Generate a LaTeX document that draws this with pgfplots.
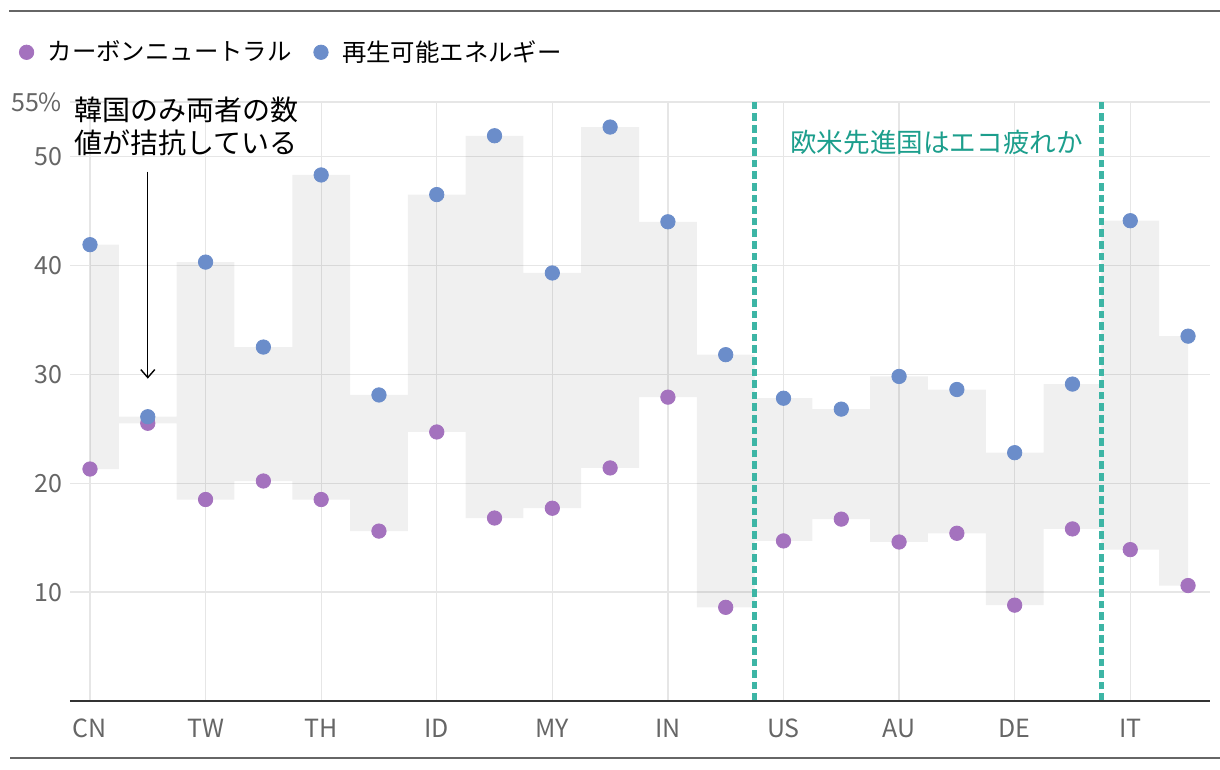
\documentclass[border=0pt]{standalone}
\usepackage{pgfplots}
\pgfplotsset{compat=1.18}
\usetikzlibrary{arrows.meta}
\usepackage{fontspec}
\setmainfont{Noto Sans CJK JP}
\definecolor{cnpurple}{HTML}{A472BE}
\definecolor{reblue}{HTML}{6B8DCA}
\definecolor{tealline}{HTML}{3DB5A5}
\definecolor{tealtext}{HTML}{1C9E8C}
\definecolor{gridgray}{HTML}{E6E6E6}
\definecolor{ticktext}{HTML}{666666}
\pgfplotstableread{
x  cn    re
0  21.3  41.9
1  25.5  26.1
2  18.5  40.3
3  20.2  32.5
4  18.5  48.3
5  15.6  28.1
6  24.7  46.5
7  16.8  51.9
8  17.7  39.3
9  21.4  52.7
10 27.9  44.0
11 8.6   31.8
12 14.7  27.8
13 16.7  26.8
14 14.6  29.8
15 15.4  28.6
16 8.8   22.8
17 15.8  29.1
18 13.9  44.1
19 10.6  33.5
}\datatable
% band outline: renewables forward, carbon neutral backward
\pgfplotstableread{
x  y
0  41.9
1  26.1
2  40.3
3  32.5
4  48.3
5  28.1
6  46.5
7  51.9
8  39.3
9  52.7
10 44.0
11 31.8
12 27.8
13 26.8
14 29.8
15 28.6
16 22.8
17 29.1
18 44.1
19 33.5
19 10.6
18 13.9
17 15.8
16 8.8
15 15.4
14 14.6
13 16.7
12 14.7
11 8.6
10 27.9
9  21.4
8  17.7
7  16.8
6  24.7
5  15.6
4  18.5
3  20.2
2  18.5
1  25.5
0  21.3
}\bandtable
\begin{document}
\begin{tikzpicture}[x=1pt,y=1pt]
\draw[color=ticktext, line width=1pt] (4.5,379.5) -- (610,379.5);
\draw[color=ticktext, line width=1pt] (5,6) -- (610,6);
\begin{axis}[
  at={(35pt,34.5pt)}, anchor=south west,
  scale only axis, width=570pt, height=299.5pt,
  xmin=-0.346, xmax=19.38, ymin=0, ymax=55,
  axis x line*=bottom, axis y line*=left,
  x axis line style={draw=none}, y axis line style={draw=none},
  ytick={10,20,30,40,50,55},
  yticklabels={10,20,30,40,50,55\%},
  xtick={0,2,4,6,8,10,12,14,16,18},
  xticklabels={CN,TW,TH,ID,MY,IN,US,AU,DE,IT},
  major tick length=0pt,
  ymajorgrids, xmajorgrids,
  grid style={color=gridgray, line width=0.65pt},
  /pgf/number format/assume math mode=true,
  tick label style={font=\fontsize{12.5}{14}\selectfont, color=ticktext},
  xticklabel style={yshift=-5.5pt},
  yticklabel style={xshift=-0.5pt},
  clip=false,
  legend columns=2,
  legend style={at={(-0.05,1.083)}, anchor=west, draw=none, fill=none,
     font=\fontsize{12.2}{14}\selectfont,
     /tikz/every even column/.append style={column sep=9pt}},
  legend cell align=left,
]
\addplot[fill=black, fill opacity=0.058, draw=none, const plot mark mid, forget plot] table[x=x,y=y] {\bandtable};
\addplot[color=tealline, line width=2.7pt, dash pattern=on 3.8pt off 2pt, forget plot] coordinates {(11.5,0) (11.5,55)};
\addplot[color=tealline, line width=2.7pt, dash pattern=on 3.8pt off 2pt, forget plot] coordinates {(17.5,0) (17.5,55)};
\addplot[color=black!80, line width=0.85pt, forget plot] coordinates {(-0.346,0) (19.38,0)};
\addplot[only marks, mark=*, mark size=3.6pt, color=cnpurple, mark options={draw=none, fill=cnpurple}] table[x=x,y=cn] {\datatable};
\addlegendentry{\hspace{5pt}カーボンニュートラル}
\addplot[only marks, mark=*, mark size=3.6pt, color=reblue, mark options={draw=none, fill=reblue}] table[x=x,y=re] {\datatable};
\addlegendentry{\hspace{5pt}再生可能エネルギー}
\draw[-{Straight Barb[length=4pt,width=7pt]}, line width=0.7pt] (axis cs:1,48.6) -- (axis cs:1,29.6);
\node[anchor=north west, align=left, inner sep=0pt, font=\fontsize{14}{16.5}\selectfont]
  at (axis cs:-0.27,55.5) {韓国のみ両者の数\\値が拮抗している};
\node[anchor=center, inner sep=0pt, color=tealtext, font=\fontsize{13.3}{15}\selectfont]
  at (axis cs:14.65,51.3) {欧米先進国はエコ疲れか};
\end{axis}
\pgfresetboundingbox
\useasboundingbox (0,0) rectangle (610,385);
\end{tikzpicture}
\end{document}
